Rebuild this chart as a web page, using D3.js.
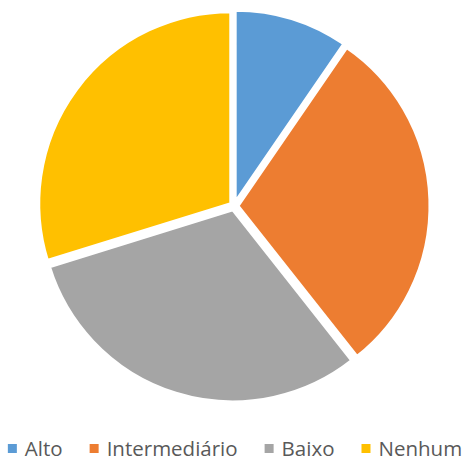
<!DOCTYPE html>
<html>
<head>
<meta charset="utf-8">
<script src="https://cdn.jsdelivr.net/npm/d3@7"></script>
<style>
  body { margin: 0; background: #fff; }
</style>
</head>
<body>
<script>
const categories = ["Alto", "Intermediário", "Baixo", "Nenhum"];
const values = [9, 28, 29, 28];
const colors = ["#5b9bd5", "#ed7d31", "#a5a5a5", "#ffc000"];

const width = 470;
const height = 462;
const cx = 234;
const cy = 206;
const radius = 192;
const explode = 4;

const svg = d3.select("body").append("svg")
  .attr("width", width)
  .attr("height", height);

const pie = d3.pie().sort(null).value((d) => d.value);
const arc = d3.arc().innerRadius(0).outerRadius(radius);

const data = categories.map((c, i) => ({ name: c, value: values[i], color: colors[i] }));

svg.append("g")
  .attr("transform", `translate(${cx} ${cy})`)
  .selectAll("path")
  .data(pie(data))
  .enter()
  .append("path")
  .attr("transform", (d) => {
    const a = (d.startAngle + d.endAngle) / 2;
    return `translate(${Math.sin(a) * explode} ${-Math.cos(a) * explode})`;
  })
  .attr("d", arc)
  .attr("fill", (d) => d.data.color)
  .attr("stroke", "#fff")
  .attr("stroke-width", 3)
  .attr("stroke-linejoin", "round");

// legend
const legend = svg.append("g");
const items = legend.selectAll("g")
  .data(data)
  .enter()
  .append("g");

items.append("rect")
  .attr("width", 9)
  .attr("height", 9)
  .attr("y", -12)
  .attr("fill", (d) => d.color);

items.append("text")
  .attr("x", 17)
  .attr("font-family", "Open Sans, sans-serif")
  .attr("font-size", 20.5)
  .attr("fill", "#595959")
  .text((d) => d.name);

const gap = 27;
let widths = [];
items.each(function () {
  widths.push(this.getBBox().width);
});
const total = d3.sum(widths) + gap * (widths.length - 1);
let x = (width - total) / 2;
items.attr("transform", (d, i) => {
  const t = `translate(${x} 456)`;
  x += widths[i] + gap;
  return t;
});
</script>
</body>
</html>
